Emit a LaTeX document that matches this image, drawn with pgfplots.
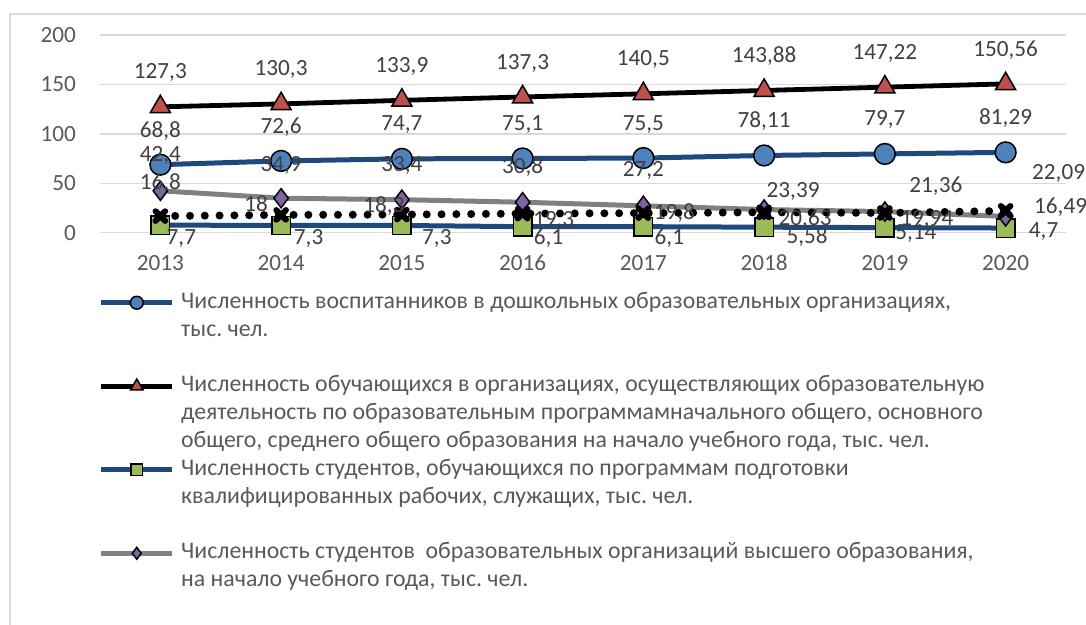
\documentclass[border=0pt]{standalone}
\usepackage{fontspec}
\setmainfont{Carlito}
\usepackage{pgfplots}
\pgfplotsset{compat=1.18}
\frenchspacing

\definecolor{dblue}{HTML}{1F497D}
\definecolor{cblue}{HTML}{4F81BD}
\definecolor{tred}{HTML}{C0504D}
\definecolor{sgreen}{HTML}{9BBB59}
\definecolor{dpurple}{HTML}{8064A2}
\definecolor{lgray}{HTML}{808080}
\definecolor{txt}{HTML}{595959}
\definecolor{lbl}{HTML}{404040}
\definecolor{gridc}{HTML}{D9D9D9}

\pgfplotsset{
  lab/.style={
    point meta=explicit symbolic,
    nodes near coords=\pgfplotspointmeta,
    visualization depends on={\thisrow{dx}\as\dx},
    visualization depends on={\thisrow{dy}\as\dy},
    every node near coord/.style={anchor=center, inner sep=0pt,
      font=\fontsize{11.6}{13}\selectfont, text=lbl,
      xshift=\dx*1pt, yshift=\dy*1pt},
  },
  mk/.style={mark options={solid, draw=black, line width=0.75pt, fill=#1}},
}

\begin{document}
\frenchspacing
\begin{tikzpicture}
\path[use as bounding box] (-50pt,-196.15pt) rectangle (493pt,116.35pt);
\draw[gridc, line width=0.6pt] (-45pt,-197pt) -- (-45pt,109.35pt) -- (494pt,109.35pt);
\begin{axis}[
  at={(0,0)}, anchor=south west,
  scale only axis, width=483pt, height=98.85pt,
  xmin=2012.5, xmax=2020.5, ymin=0, ymax=200,
  clip=false,
  axis line style={draw=none},
  major tick length=0pt,
  xtick={2013,2014,...,2020}, ytick={0,50,...,200},
  ymajorgrids, grid style={gridc, line width=0.75pt},
  /pgf/number format/1000 sep={},
  /pgf/number format/assume math mode=true,
  tick label style={font=\fontsize{11.6}{13}\selectfont, text=txt, inner sep=0pt},
  xticklabel style={anchor=base, yshift=-19.1pt},
  yticklabel style={anchor=east, xshift=-11.8pt},
  legend style={at={(0,0)}, anchor=north west, xshift=-0.6pt, yshift=-28.05pt,
    draw=none, fill=none, inner sep=0pt, outer sep=0pt,
    row sep=0pt, column sep=3.2pt,
    nodes={inner sep=0pt, outer sep=0pt, text height=9.76pt, text depth=4.16pt},
    font=\fontsize{11.9}{13}\selectfont, text=txt},
  legend cell align=left,
  legend image code/.code={
    \draw[mark repeat=2, mark phase=2, every mark/.append style={scale=0.62}]
      plot coordinates {(0pt,0pt) (17.75pt,0pt) (35.5pt,0pt)};
  },
]

% preschool
\addplot[dblue, line width=2.5pt, mark=*, mark size=5.2pt, mk=cblue, lab]
  table[x=x, y=y, meta=lab] {
x    y      lab    dx  dy
2013 68.8   68,8   0   17
2014 72.6   72,6   0   17
2015 74.7   74,7   0   17
2016 75.1   75,1   0   17
2017 75.5   75,5   0   17
2018 78.11  78,11  0   17
2019 79.7   79,7   0   17
2020 81.29  81,29  0   17
};
\addlegendentry{Численность воспитанников в дошкольных образовательных организациях,}
\addlegendimage{empty legend}
\addlegendentry{тыс. чел.}
\addlegendimage{empty legend}
\addlegendentry{}

% schools
\addplot[black, line width=2.4pt, mark=triangle*, mark size=5.8pt, mk=tred, lab]
  table[x=x, y=y, meta=lab] {
x    y       lab     dx  dy
2013 127.3   127,3   0   17
2014 130.3   130,3   0   17
2015 133.9   133,9   0   17
2016 137.3   137,3   0   17
2017 140.5   140,5   0   17
2018 143.88  143,88  0   17
2019 147.22  147,22  0   17
2020 150.56  150,56  0   17
};
\addlegendentry{Численность обучающихся в организациях, осуществляющих образовательную}
\addlegendimage{empty legend}
\addlegendentry{деятельность по образовательным программамначального общего, основного}
\addlegendimage{empty legend}
\addlegendentry{общего, среднего общего образования на начало учебного года, тыс. чел.}

% vocational
\addplot[dblue, line width=2.5pt, mark=square*, mark size=4.6pt, mk=sgreen, lab]
  table[x=x, y=y, meta=lab] {
x    y     lab    dx     dy
2013 7.7   7,7    10.5   -6.5
2014 7.3   7,3    13.75  -6.35
2015 7.3   7,3    17.5   -6.5
2016 6.1   6,1    13     -5.8
2017 6.1   6,1    13     -5.8
2018 5.58  5,58   21.5   -4.75
2019 5.14  5,14   15.5   -2.85
2020 4.7   4,7    19     -1.8
};
\addlegendentry{Численность студентов, обучающихся по программам подготовки}
\addlegendimage{empty legend}
\addlegendentry{квалифицированных рабочих, служащих, тыс. чел.}
\addlegendimage{empty legend}
\addlegendentry{}

% higher education
\addplot[lgray, line width=2.5pt, mark=diamond*, mark size=4.8pt, mk=dpurple, lab]
  table[x=x, y=y, meta=lab] {
x    y      lab    dx    dy
2013 42.4   42,4   0     17.5
2014 34.9   34,9   0     16.5
2015 33.4   33,4   0     17
2016 30.8   30,8   0     17.8
2017 27.2   27,2   0     17.5
2018 23.39  23,39  14.5  9
2019 21.36  21,36  25.5  12.5
2020 16.49  16,49  27.5  4.85
};
\addlegendentry{Численность студентов\ \ образовательных организаций высшего образования,}
\addlegendimage{empty legend}
\addlegendentry{на начало учебного года, тыс. чел.}

% dotted series, not in the legend
\addplot[black, line width=4pt, line cap=round, dash pattern=on 0pt off 7.4pt,
  mark=x, mark size=3.4pt, mark options={solid, line width=3pt}, lab, forget plot]
  table[x=x, y=y, meta=lab] {
x    y      lab    dx     dy
2013 16.8   16,8   0      16.5
2014 18     18     -12.5  5.7
2015 18.3   18,3   -9     4.5
2016 19.3   19,3   15.5   -3.5
2017 19.8   19,8   15.5   0
2018 20.63  20,63  20.5   -3.5
2019 19.94  19,94  21     -3.25
2020 22.09  22,09  26.5   18.8
};
\end{axis}
\end{tikzpicture}
\end{document}
